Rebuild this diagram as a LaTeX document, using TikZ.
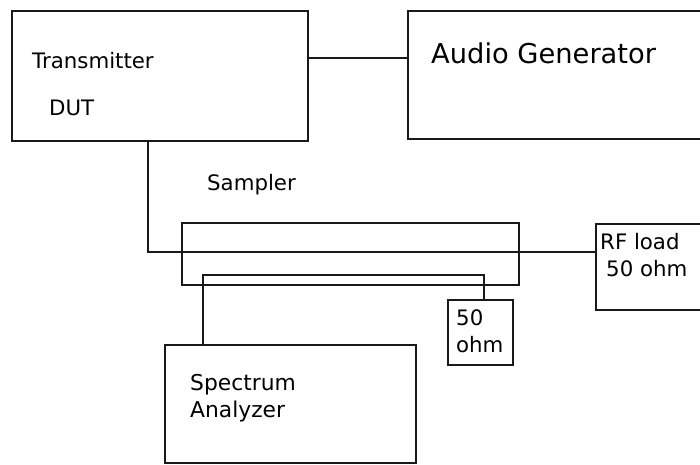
\documentclass[tikz,border=0pt]{standalone}
\usepackage{fontspec}
\setmainfont{DejaVu Sans}
\usetikzlibrary{positioning}

\tikzset{
  blk/.style={draw=black!90, line width=1.6pt, rectangle, anchor=north west, inner sep=0pt},
  wire/.style={draw=black!90, line width=1.6pt},
  lbl/.style={anchor=base west, inner sep=0pt, font=\fontsize{21.3}{25}\selectfont}
}

\begin{document}
\begin{tikzpicture}[x=1pt,y=-1pt]

    \clip (0,0) rectangle (700,464);
    \fill[white] (0,0) rectangle (700,464);

    % Boxes
    \node[blk, minimum width=296pt, minimum height=130pt] (tx) at (11,10) {};
    \node[blk, minimum width=303pt, minimum height=128pt] (ag) at (407,10) {};
    \node[blk, minimum width=337pt, minimum height=62pt] (smp) at (181,222) {};
    \node[blk, minimum width=115pt, minimum height=86pt] (rf) at (595,223) {};
    \node[blk, minimum width=65pt, minimum height=65pt] (term) at (447,299) {};
    \node[blk, minimum width=251pt, minimum height=118pt] (sa) at (164,344) {};

    % Texts
    \node[lbl] (txname) at (32,68) {Transmitter};
    \node[lbl] (dut) at (49,115) {DUT};
    \node[lbl, font=\fontsize{27.3}{31}\selectfont] (agname) at (431,63) {Audio Generator};
    \node[lbl] (smpname) at (207,190) {Sampler};
    \node[lbl] (rfname) at (600,249) {RF load};
    \node[lbl] (rfval) at (606,276) {50 ohm};
    \node[lbl] (termval) at (456,325) {50};
    \node[lbl] (termunit) at (456,352) {ohm};
    \node[lbl, font=\fontsize{21.8}{26}\selectfont] (saname) at (190,390) {Spectrum};
    \node[lbl, font=\fontsize{21.8}{26}\selectfont] (saname2) at (190,417) {Analyzer};

    % Connections
    \coordinate (audio) at (0,58);
    \coordinate (main) at (148,252);
    \coordinate (cpl) at (203,275);
    \draw[wire] (tx.east |- audio) -- (ag.west |- audio);
    \draw[wire] (tx.south -| main) -- (main) -- (rf.west |- main);
    \draw[wire] (sa.north -| cpl) -- (cpl) -- (cpl -| 484,0) -- (term.north -| 484,0);

\end{tikzpicture}
\end{document}
